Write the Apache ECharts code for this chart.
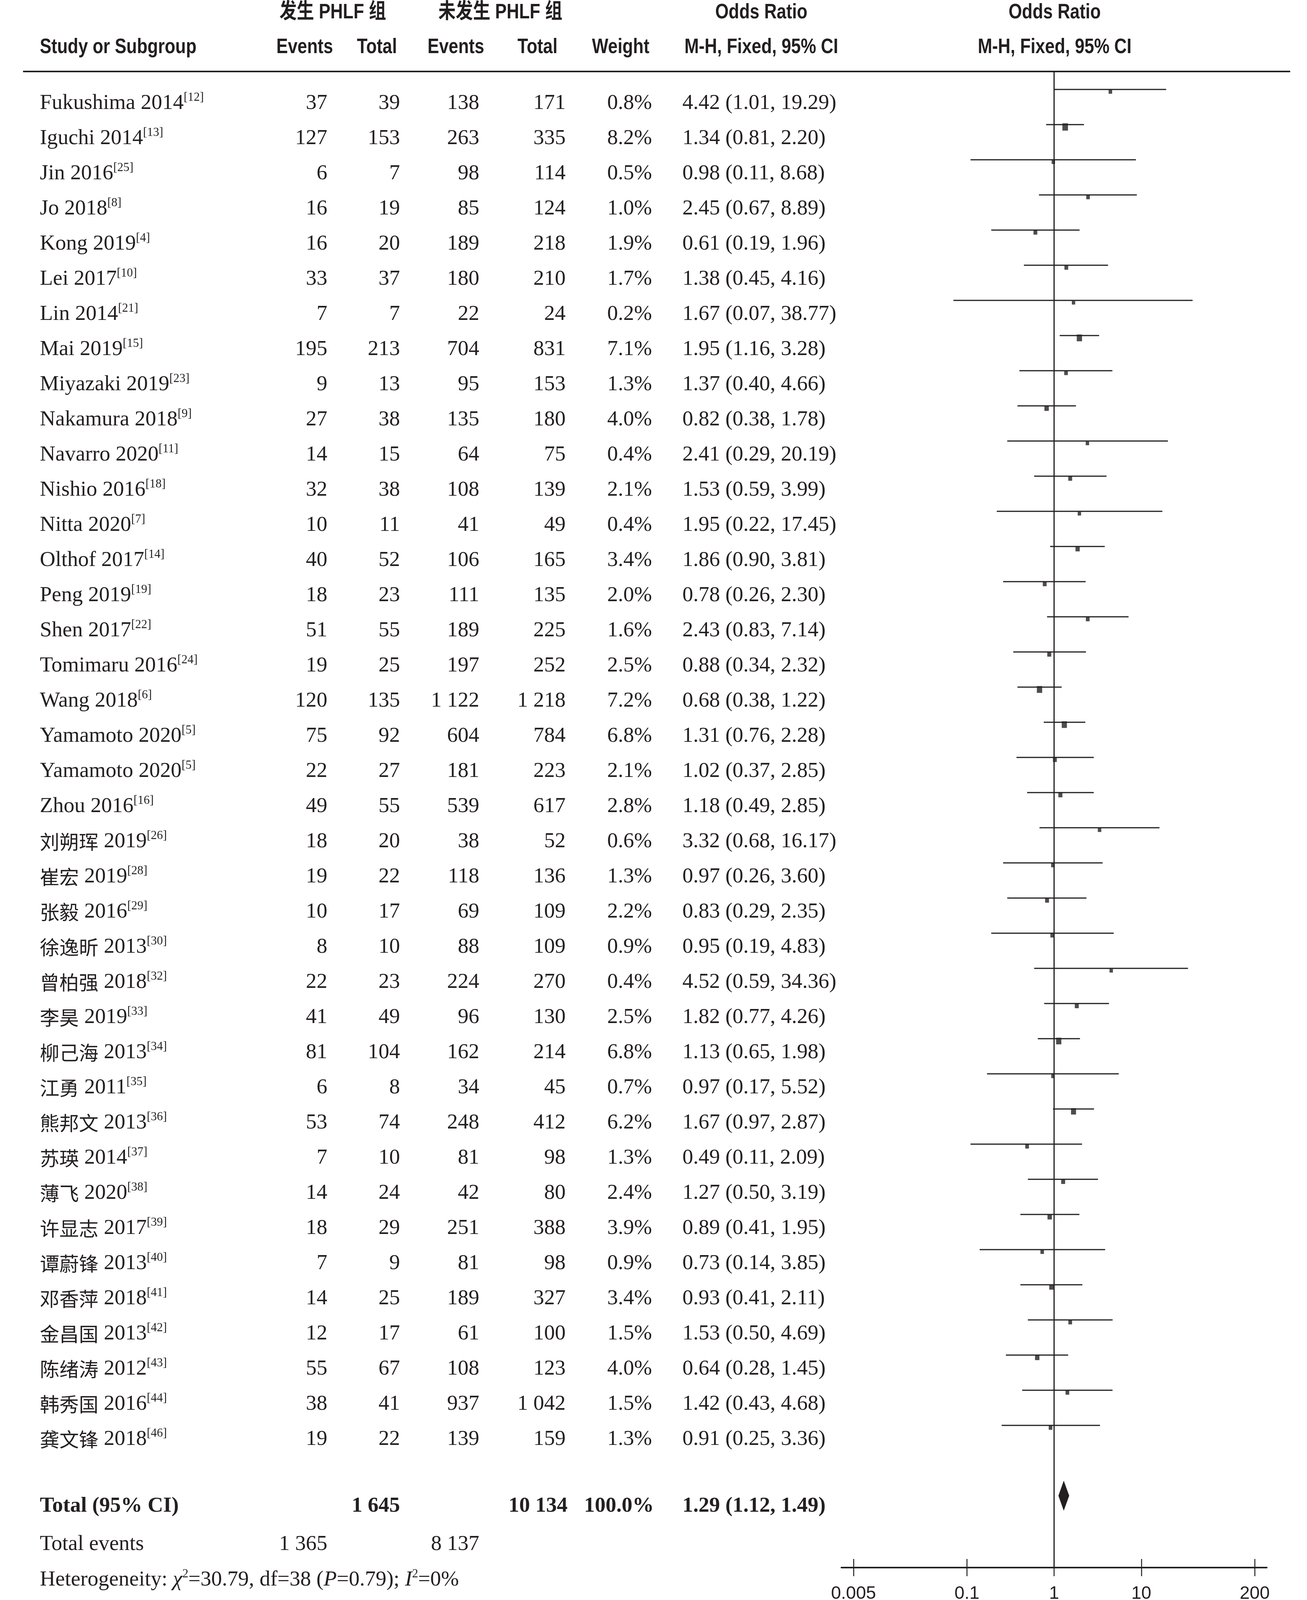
<!DOCTYPE html>
<html>
<head>
<meta charset="utf-8">
<script src="https://cdn.jsdelivr.net/npm/echarts@6/dist/echarts.min.js"></script>
<style>
html,body{margin:0;padding:0;background:#fff;overflow:hidden}
#c{width:3346px;height:4207px}
</style>
</head>
<body>
<div id="c"></div>
<script>
// ---------------- data ----------------
const studies = ['Fukushima 2014','Iguchi 2014','Jin 2016','Jo 2018','Kong 2019','Lei 2017','Lin 2014','Mai 2019','Miyazaki 2019','Nakamura 2018','Navarro 2020','Nishio 2016','Nitta 2020','Olthof 2017','Peng 2019','Shen 2017','Tomimaru 2016','Wang 2018','Yamamoto 2020','Yamamoto 2020','Zhou 2016','刘朔珲 2019','崔宏 2019','张毅 2016','徐逸昕 2013','曾柏强 2018','李昊 2019','柳己海 2013','江勇 2011','熊邦文 2013','苏瑛 2014','薄飞 2020','许显志 2017','谭蔚锋 2013','邓香萍 2018','金昌国 2013','陈绪涛 2012','韩秀国 2016','龚文锋 2018'];
const refs = [12,13,25,8,4,10,21,15,23,9,11,18,7,14,19,22,24,6,5,5,16,26,28,29,30,32,33,34,35,36,37,38,39,40,41,42,43,44,46];
const eventsPHLF = [37,127,6,16,16,33,7,195,9,27,14,32,10,40,18,51,19,120,75,22,49,18,19,10,8,22,41,81,6,53,7,14,18,7,14,12,55,38,19];
const totalPHLF = [39,153,7,19,20,37,7,213,13,38,15,38,11,52,23,55,25,135,92,27,55,20,22,17,10,23,49,104,8,74,10,24,29,9,25,17,67,41,22];
const eventsNoPHLF = [138,263,98,85,189,180,22,704,95,135,64,108,41,106,111,189,197,1122,604,181,539,38,118,69,88,224,96,162,34,248,81,42,251,81,189,61,108,937,139];
const totalNoPHLF = [171,335,114,124,218,210,24,831,153,180,75,139,49,165,135,225,252,1218,784,223,617,52,136,109,109,270,130,214,45,412,98,80,388,98,327,100,123,1042,159];
const weights = [0.8,8.2,0.5,1.0,1.9,1.7,0.2,7.1,1.3,4.0,0.4,2.1,0.4,3.4,2.0,1.6,2.5,7.2,6.8,2.1,2.8,0.6,1.3,2.2,0.9,0.4,2.5,6.8,0.7,6.2,1.3,2.4,3.9,0.9,3.4,1.5,4.0,1.5,1.3];
const oddsRatio = [4.42,1.34,0.98,2.45,0.61,1.38,1.67,1.95,1.37,0.82,2.41,1.53,1.95,1.86,0.78,2.43,0.88,0.68,1.31,1.02,1.18,3.32,0.97,0.83,0.95,4.52,1.82,1.13,0.97,1.67,0.49,1.27,0.89,0.73,0.93,1.53,0.64,1.42,0.91];
const ciLower = [1.01,0.81,0.11,0.67,0.19,0.45,0.07,1.16,0.40,0.38,0.29,0.59,0.22,0.90,0.26,0.83,0.34,0.38,0.76,0.37,0.49,0.68,0.26,0.29,0.19,0.59,0.77,0.65,0.17,0.97,0.11,0.50,0.41,0.14,0.41,0.50,0.28,0.43,0.25];
const ciUpper = [19.29,2.20,8.68,8.89,1.96,4.16,38.77,3.28,4.66,1.78,20.19,3.99,17.45,3.81,2.30,7.14,2.32,1.22,2.28,2.85,2.85,16.17,3.60,2.35,4.83,34.36,4.26,1.98,5.52,2.87,2.09,3.19,1.95,3.85,2.11,4.69,1.45,4.68,3.36];
const pooledOR = [1.29, 1.12, 1.49];           // OR, lower, upper
const totalSubjects = [1645, 10134];
const totalWeight = [100.0];
const totalEvents = [1365, 8137];
const xTickValues = [0.005, 0.1, 1, 10, 200];
const xTickLabels = ['0.005', '0.1', '1', '10', '200'];

// ---------------- styling ----------------
const INK = '#231f20';
function hasFont(f) {
  const c = document.createElement('canvas').getContext('2d');
  const s = '0.005 Study or Subgroup PHLF';
  let diff = false;
  ['monospace', 'serif'].forEach(function (fb) {
    c.font = '60px ' + fb; const a = c.measureText(s).width;
    c.font = '60px "' + f + '", ' + fb; const b = c.measureText(s).width;
    if (Math.abs(a - b) > 0.5) diff = true;
  });
  return diff;
}
let SANS = 'Liberation Sans', SX = 0.82, AXIS_FS = 46;
if (hasFont('Liberation Sans Narrow')) { SANS = 'Liberation Sans Narrow'; SX = 1; AXIS_FS = 54; }
else if (hasFont('Arial Narrow')) { SANS = 'Arial Narrow'; SX = 1; AXIS_FS = 54; }
const SANS_F = '"' + SANS + '", "Noto Sans CJK SC", sans-serif';
const SERIF_F = '"Liberation Serif", "Times New Roman", serif';
const CJK_F = '"Noto Sans CJK SC", sans-serif';
const FS = 55;

function fmtInt(n) { return String(n).replace(/\B(?=(\d{3})+(?!\d))/g, ' '); }
function fmtOR(o, l, h) { return o.toFixed(2) + ' (' + l.toFixed(2) + ', ' + h.toFixed(2) + ')'; }

const RICH = {
  a: { fontFamily: SERIF_F, fontSize: FS, fill: INK, lineHeight: 62, verticalAlign: 'middle' },
  b: { fontFamily: SERIF_F, fontSize: FS, fontWeight: 'bold', fill: INK, lineHeight: 62, verticalAlign: 'middle' },
  i: { fontFamily: SERIF_F, fontSize: FS, fontStyle: 'italic', fill: INK, lineHeight: 62, verticalAlign: 'middle' },
  c: { fontFamily: CJK_F, fontSize: 50, fill: INK, lineHeight: 62, verticalAlign: 'middle' },
  s: { fontFamily: SERIF_F, fontSize: 31, fill: INK, lineHeight: 34, verticalAlign: 'top' }
};

function T(x, y, text, o) {
  o = o || {};
  const st = {
    text: text, fill: INK,
    fontFamily: o.family || SERIF_F, fontSize: o.size || FS,
    fontWeight: o.weight || 'normal',
    align: o.align || 'left', textAlign: o.align || 'left',
    verticalAlign: 'middle', textVerticalAlign: 'middle'
  };
  if (o.rich) st.rich = o.rich;
  return { type: 'text', x: x, y: y, scaleX: o.sx || 1, silent: true, z: 10, style: st };
}
function H(x, y, text, align, weight) {
  return T(x, y, text, { family: SANS_F, size: 54, weight: weight || 'bold', align: align || 'center', sx: SX });
}

// ---------------- chart ----------------
const chart = echarts.init(document.getElementById('c'), null, { renderer: 'canvas' });
const TOTAL_IDX = 40;
const X_MIN = 0.00363, X_MAX = 275;

function tickLabel(v) {
  let best = 0, bd = Infinity;
  xTickValues.forEach(function (t, k) {
    const d = Math.abs(Math.log10(v) - Math.log10(t));
    if (d < bd) { bd = d; best = k; }
  });
  return xTickLabels[best];
}

const option = {
  animation: false,
  backgroundColor: '#fff',
  grid: [
    { left: 2154, right: 103, top: 184, bottom: 194, containLabel: false },
    { left: 2154, right: 103, top: 3900, bottom: 194, containLabel: false }
  ],
  xAxis: [{
    type: 'log', logBase: 10, min: X_MIN, max: X_MAX, position: 'bottom', gridIndex: 0,
    axisLine: { show: true, onZero: false, lineStyle: { color: INK, width: 4 } },
    axisTick: { show: true, inside: false, length: 22, lineStyle: { color: INK, width: 2.5 }, customValues: xTickValues },
    axisLabel: { show: true, customValues: xTickValues, formatter: tickLabel, margin: 44,
      fontFamily: SANS_F, fontSize: AXIS_FS, color: INK },
    splitLine: { show: false }, minorTick: { show: false }
  }, {
    type: 'log', logBase: 10, min: X_MIN, max: X_MAX, position: 'bottom', gridIndex: 1,
    axisLine: { show: false, onZero: false },
    axisTick: { show: true, inside: true, length: 22, lineStyle: { color: INK, width: 2.5 }, customValues: xTickValues },
    axisLabel: { show: false }, splitLine: { show: false }, minorTick: { show: false }
  }],
  yAxis: [
    { type: 'value', inverse: true, min: -0.5, max: 42.044, show: false, gridIndex: 0 },
    { type: 'value', min: 0, max: 1, show: false, gridIndex: 1 }
  ],
  series: [
    {
      name: 'ci', type: 'custom', xAxisIndex: 0, yAxisIndex: 0, silent: true,
      data: studies.map(function (_, i) { return [ciLower[i], ciUpper[i], i]; }),
      encode: { x: [0, 1], y: 2 },
      renderItem: function (params, api) {
        const p1 = api.coord([api.value(0), api.value(2)]);
        const p2 = api.coord([api.value(1), api.value(2)]);
        return { type: 'line', shape: { x1: p1[0], y1: p1[1], x2: p2[0], y2: p2[1] },
          style: { stroke: INK, lineWidth: 3 } };
      },
      markLine: {
        silent: true, symbol: ['none', 'none'], label: { show: false },
        lineStyle: { color: INK, width: 3, type: 'solid' },
        data: [{ xAxis: 1 }]
      }
    },
    {
      name: 'or', type: 'scatter', xAxisIndex: 0, yAxisIndex: 0, silent: true,
      data: studies.map(function (_, i) { return [oddsRatio[i], i, weights[i]]; }),
      symbol: 'rect',
      symbolSize: function (v) { return [8.4 + 0.716 * v[2], 9 + 1.18 * v[2]]; },
      symbolOffset: [0, 6],
      itemStyle: { color: INK }
    },
    {
      name: 'pooled', type: 'custom', xAxisIndex: 0, yAxisIndex: 0, silent: true,
      data: [[pooledOR[0], pooledOR[1], pooledOR[2], TOTAL_IDX]],
      encode: { x: [0, 1, 2], y: 3 },
      renderItem: function (params, api) {
        const c = api.coord([api.value(0), api.value(3)]);
        const l = api.coord([api.value(1), api.value(3)]);
        const r = api.coord([api.value(2), api.value(3)]);
        const h = 38.5;
        return { type: 'polygon', shape: { points: [[l[0], c[1]], [c[0], c[1] - h], [r[0], c[1]], [c[0], c[1] + h]] },
          style: { fill: INK } };
      }
    }
  ]
};
chart.setOption(option);

// ---------------- table text ----------------
const els = [];
els.push({ type: 'line', silent: true, shape: { x1: 59, y1: 183, x2: 3303, y2: 183 }, style: { stroke: INK, lineWidth: 4 } });
els.push(H(852, 32, '发生 PHLF 组'));
els.push(H(1281, 32, '未发生 PHLF 组'));
els.push(H(1949, 32, 'Odds Ratio'));
els.push(H(2700, 32, 'Odds Ratio'));
els.push(H(102, 121, 'Study or Subgroup', 'left'));
els.push(H(780, 121, 'Events'));
els.push(H(965, 121, 'Total'));
els.push(H(1167, 121, 'Events'));
els.push(H(1376, 121, 'Total'));
els.push(H(1589, 121, 'Weight'));
els.push(H(1949, 121, 'M-H, Fixed, 95% CI'));
els.push(H(2700, 121, 'M-H, Fixed, 95% CI'));

const COL = { name: 102, evA: 838, totA: 1024, evB: 1227, totB: 1448, w: 1669, or: 1747 };
const TXT_OFF = 36;
studies.forEach(function (s, i) {
  const y = chart.convertToPixel({ yAxisIndex: 0 }, i) + TXT_OFF;
  const m = s.match(/^([\u4e00-\u9fff]+)(.*)$/);
  const nameRich = m ? ('{c|' + m[1] + '}{a|' + m[2] + '}') : ('{a|' + s + '}');
  els.push(T(COL.name, y, nameRich + '{s|[' + refs[i] + ']}', { rich: RICH }));
  els.push(T(COL.evA, y, fmtInt(eventsPHLF[i]), { align: 'right' }));
  els.push(T(COL.totA, y, fmtInt(totalPHLF[i]), { align: 'right' }));
  els.push(T(COL.evB, y, fmtInt(eventsNoPHLF[i]), { align: 'right' }));
  els.push(T(COL.totB, y, fmtInt(totalNoPHLF[i]), { align: 'right' }));
  els.push(T(COL.w, y, weights[i].toFixed(1) + '%', { align: 'right' }));
  els.push(T(COL.or, y, fmtOR(oddsRatio[i], ciLower[i], ciUpper[i])));
});

const yTot = chart.convertToPixel({ yAxisIndex: 0 }, TOTAL_IDX) + 27;
els.push(T(COL.name, yTot, 'Total (95% CI)', { weight: 'bold' }));
els.push(T(COL.totA, yTot, fmtInt(totalSubjects[0]), { weight: 'bold', align: 'right' }));
els.push(T(1453, yTot, fmtInt(totalSubjects[1]), { weight: 'bold', align: 'right' }));
els.push(T(1674, yTot, totalWeight[0].toFixed(1) + '%', { weight: 'bold', align: 'right' }));
els.push(T(COL.or, yTot, fmtOR(pooledOR[0], pooledOR[1], pooledOR[2]), { weight: 'bold' }));

els.push(T(COL.name, 3954, 'Total events'));
els.push(T(COL.evA, 3954, fmtInt(totalEvents[0]), { align: 'right' }));
els.push(T(COL.evB, 3954, fmtInt(totalEvents[1]), { align: 'right' }));

els.push(T(COL.name, 4045, '{a|Heterogeneity: }{i|χ}{s|2}{a|=30.79, df=38 (}{i|P}{a|=0.79); }{i|I}{s|2}{a|=0%}', { rich: RICH }));
els.push(T(COL.name, 4136, '{a|Test for overall effect: }{i|Z}{a|=3.47 (}{i|P}{a|=0.000 5)}', { rich: RICH }));

els.push(H(2454, 4168, '未发生 PHLF', 'center', 'normal'));
els.push(H(2900, 4168, '发生 PHLF', 'center', 'normal'));

chart.setOption({ graphic: { elements: els } });
</script>
</body>
</html>
